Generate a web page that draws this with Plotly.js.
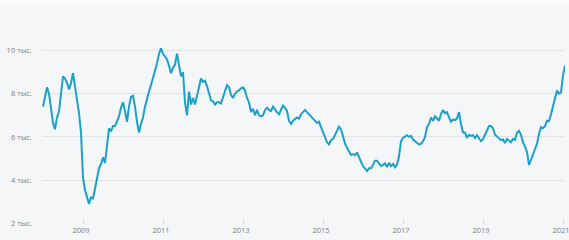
<!DOCTYPE html>
<html>
<head>
<meta charset="utf-8">
<script src="https://cdn.plot.ly/plotly-3.0.1.min.js"></script>
<style>
  html, body { margin: 0; padding: 0; background: #fbfbfc; }
  #chart { position: absolute; left: 0; top: 5px; width: 569px; height: 235px; }
</style>
</head>
<body>
<div id="chart"></div>
<script>
const years = [2008, 2009, 2010, 2011, 2012, 2013, 2014, 2015, 2016, 2017, 2018, 2019, 2020, 2021];
const p2008 = [7.4, 7.9, 8.3, 8.0, 7.4, 6.65, 6.35, 6.9, 7.2, 8.1, 8.8, 8.7, 8.5, 8.2, 8.5, 8.95, 8.3, 7.8, 7.1, 6.2];
const p2009 = [4.1, 3.54, 3.2, 2.9, 3.2, 3.15, 3.6, 4.1, 4.55, 4.75, 5.05, 4.8, 5.5, 6.4, 6.25, 6.5, 6.5, 6.7, 6.95, 7.35];
const p2010 = [7.6, 7.2, 6.7, 7.4, 7.85, 7.9, 7.4, 6.7, 6.2, 6.6, 6.9, 7.4, 7.8, 8.1, 8.4, 8.7, 9.0, 9.4, 9.85, 10.1];
const p2011 = [9.85, 9.75, 9.6, 9.3, 8.95, 9.2, 9.35, 9.85, 9.3, 8.8, 9.0, 7.6, 7.0, 8.1, 7.5, 7.8, 7.5, 7.9, 8.45, 8.7];
const p2012 = [8.55, 8.6, 8.35, 8.0, 7.7, 7.65, 7.5, 7.6, 7.6, 7.55, 7.85, 8.1, 8.4, 8.3, 7.95, 7.8, 8.0, 8.1, 8.15, 8.25];
const p2013 = [8.3, 8.15, 7.8, 7.6, 7.15, 7.3, 7.0, 7.25, 7.0, 6.95, 7.0, 7.25, 7.35, 7.25, 7.2, 7.4, 7.25, 7.15, 7.05, 7.25];
const p2014 = [7.45, 7.35, 7.2, 6.75, 6.6, 6.75, 6.85, 6.9, 6.85, 7.05, 7.15, 7.25, 7.15, 7.05, 6.9, 6.8, 6.7, 6.65, 6.7, 6.45];
const p2015 = [6.25, 6.0, 5.75, 5.65, 5.85, 5.9, 6.1, 6.3, 6.47, 6.35, 6.0, 5.7, 5.5, 5.32, 5.16, 5.2, 5.15, 5.28, 5.1, 4.85];
const p2016 = [4.65, 4.55, 4.42, 4.55, 4.55, 4.7, 4.9, 4.9, 4.75, 4.65, 4.7, 4.78, 4.6, 4.8, 4.65, 4.75, 4.6, 4.72, 5.1, 5.8];
const p2017 = [5.95, 6.0, 6.08, 6.0, 6.05, 5.88, 5.8, 5.7, 5.65, 5.68, 5.8, 6.0, 6.45, 6.6, 6.9, 6.75, 6.95, 6.85, 6.75, 7.05];
const p2018 = [7.25, 7.1, 7.15, 6.9, 6.7, 6.8, 6.78, 6.86, 7.15, 6.6, 6.2, 6.2, 5.95, 6.1, 6.05, 6.08, 5.95, 6.08, 5.95, 5.8];
const p2019 = [5.9, 6.1, 6.35, 6.5, 6.5, 6.4, 6.1, 6.0, 5.9, 5.85, 5.88, 5.72, 5.9, 5.8, 5.75, 5.9, 5.86, 6.2, 6.28, 6.1];
const p2020 = [5.75, 5.55, 5.3, 4.7, 4.95, 5.2, 5.45, 5.68, 6.15, 6.45, 6.4, 6.5, 6.75, 6.72, 7.05, 7.45, 7.8, 8.15, 8.0, 8.05];
const p2021 = [8.85, 9.3];
const pricesByYear = [p2008, p2009, p2010, p2011, p2012, p2013, p2014, p2015, p2016, p2017, p2018, p2019, p2020, p2021];
const SAMPLES_PER_YEAR = 20;

const xTickVals = [2009, 2011, 2013, 2015, 2017, 2019, 2021];
const xTickText = ['2009', '2011', '2013', '2015', '2017', '2019', '2021'];
const yTickVals = [2, 4, 6, 8, 10, 12];
const yTickText = ['2 тыс.', '4 тыс.', '6 тыс.', '8 тыс.', '10 тыс.', ''];

const xs = [], ys = [];
years.forEach((yr, k) => {
  pricesByYear[k].forEach((v, i) => { xs.push(yr + i / SAMPLES_PER_YEAR); ys.push(v); });
});

const trace = {
  x: xs, y: ys, type: 'scatter', mode: 'lines',
  line: { color: '#1ba0c8', width: 2 },
  hoverinfo: 'skip'
};

const layout = {
  width: 569, height: 235,
  margin: { l: 42, r: 4, t: 2, b: 16, pad: 0 },
  paper_bgcolor: '#f5f6f8',
  plot_bgcolor: '#f5f6f8',
  showlegend: false,
  font: { family: '"Open Sans", sans-serif', size: 7.5, color: '#7b7e83' },
  xaxis: {
    type: 'linear', range: [2007.975, 2021.05],
    tickmode: 'array', tickvals: xTickVals, ticktext: xTickText,
    showgrid: false, zeroline: false, showline: false,
    ticks: 'inside', ticklen: 4, tickwidth: 1, tickcolor: '#d3d6da',
    ticklabelshift: -2, ticklabeloverflow: 'allow',
    fixedrange: true
  },
  yaxis: {
    range: [1.968, 12.014],
    tickmode: 'array', tickvals: yTickVals, ticktext: yTickText,
    showgrid: true, gridcolor: '#e1e3e7', gridwidth: 1,
    zeroline: false, showline: false, ticks: '',
    ticklabelstandoff: 9,
    fixedrange: true
  }
};

Plotly.newPlot('chart', [trace], layout, { displayModeBar: false, staticPlot: true });
</script>
</body>
</html>
